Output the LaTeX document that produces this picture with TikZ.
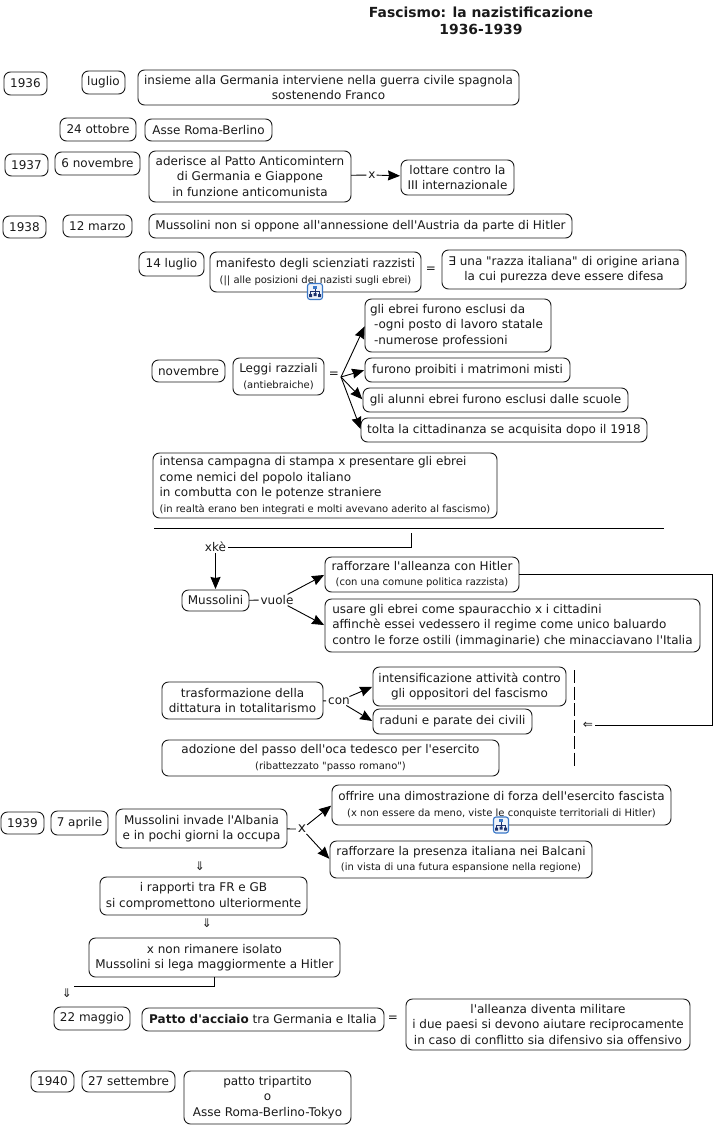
\documentclass[tikz,border=0pt]{standalone}
\usepackage{fontspec}
\defaultfontfeatures[\rmfamily]{}
\setmainfont{DejaVu Sans}
\usetikzlibrary{
        arrows.meta,
        positioning
    }
\newcommand{\subnote}[1]{{\fontsize{10}{12}\selectfont #1}}
\definecolor{iconblue}{RGB}{58,120,200}
\definecolor{iconnavy}{RGB}{30,50,110}
\tikzset{>={Stealth[length=12pt,width=10pt,inset=1pt]},shorten >=1pt}
\tikzset{every node/.style={font=\fontsize{12}{15.4}\selectfont,text=black!90}}
\tikzset{box/.style={draw=black!90,line width=0.9pt,rounded corners=6.5pt,align=center,anchor=north west,inner sep=0pt,outer sep=0pt}}
\tikzset{link/.style={inner sep=1pt,outer sep=0pt}}
\tikzset{conn/.style={line width=0.9pt,draw=black}}
\tikzset{mapicon/.pic={
        \draw[draw=iconblue,fill=iconblue!8,line width=1.1pt,rounded corners=2.5pt] (-7.5,-8) rectangle (7.5,8);
        \draw[draw=iconnavy,line width=0.7pt] (0,-4) -- (0,2) (-4.5,4) -- (-4.5,0) -- (4.5,0) -- (4.5,4);
        \fill[iconblue] (-2,-6) rectangle (2,-3);
        \fill[iconnavy] (-6,2.5) rectangle (-3,5.5) (3,2.5) rectangle (6,5.5) (-1.5,1.5) rectangle (1.5,4.5);
    }}

\begin{document}
\begin{tikzpicture}[x=1pt,y=-1pt]
                \useasboundingbox (0,0) rectangle (715,1125);
                \node[font=\fontsize{13.9}{16.5}\selectfont\bfseries,align=center] (title) at (481,21) {Fascismo: la nazistificazione\\1936-1939};
                % 1936
                \node[box,minimum width=43pt,minimum height=23pt] (y36) at (4,72) {1936};
                \node[box,minimum width=43pt,minimum height=23pt] (lug) at (82,71) {luglio};
                \node[box,minimum width=381pt,minimum height=35pt] (spagna) at (138,70) {insieme alla Germania interviene nella guerra civile spagnola\\sostenendo Franco};
                \node[box,minimum width=76pt,minimum height=23pt] (ott) at (60,118) {24 ottobre};
                \node[box,minimum width=127pt,minimum height=22pt] (asse) at (145,119) {Asse Roma-Berlino};
                % 1937
                \node[box,minimum width=43pt,minimum height=22pt] (y37) at (5,154) {1937};
                \node[box,minimum width=85pt,minimum height=23pt] (nov37) at (55,152) {6 novembre};
                \node[box,minimum width=202pt,minimum height=51pt] (patto37) at (149,151) {aderisce al Patto Anticomintern\\di Germania e Giappone\\in funzione anticomunista};
                \node[link] (x37) at (372,175) {x};
                \node[box,minimum width=113pt,minimum height=35pt] (terza) at (401,160) {lottare contro la\\III internazionale};
                \draw[conn] (patto37) -- (x37);
                \path[->] (x37) edge[conn] (terza);
                % 1938
                \node[box,minimum width=43pt,minimum height=22pt] (y38) at (3,216) {1938};
                \node[box,minimum width=69pt,minimum height=22pt] (mar) at (63,215) {12 marzo};
                \node[box,minimum width=423pt,minimum height=24pt] (austria) at (149,214) {Mussolini non si oppone all'annessione dell'Austria da parte di Hitler};
                \node[box,minimum width=65pt,minimum height=24pt] (lug38) at (139,252) {14 luglio};
                \node[box,minimum width=211pt,minimum height=40pt] (manif) at (210,252) {manifesto degli scienziati razzisti\\\subnote{(|| alle posizioni dei nazisti sugli ebrei)}};
                \pic at (315,291.5) {mapicon};
                \node[link] (eq1) at (431,270) {=};
                \node[box,minimum width=244pt,minimum height=39pt] (razza) at (442,250) {∃ una "razza italiana" di origine ariana\\la cui purezza deve essere difesa};
                \node[box,minimum width=73pt,minimum height=22pt] (nov38) at (152,360) {novembre};
                \node[box,minimum width=91pt,minimum height=37pt] (leggi) at (233,358) {Leggi razziali\\\subnote{(antiebraiche)}};
                \node[link] (eq2) at (334,375) {=};
                \coordinate (fork) at (341,377);
                \node[box,align=left,text width=176pt,inner xsep=5pt,minimum height=53pt] (esclusi) at (365,299) {gli ebrei furono esclusi da\\\ -ogni posto di lavoro statale\\\ -numerose professioni};
                \node[box,minimum width=205pt,minimum height=24pt] (misti) at (365,358) {furono proibiti i matrimoni misti};
                \node[box,minimum width=265pt,minimum height=24pt] (scuole) at (363,388) {gli alunni ebrei furono esclusi dalle scuole};
                \node[box,minimum width=286pt,minimum height=24pt] (citt) at (361,418) {tolta la cittadinanza se acquisita dopo il 1918};
                \path[->]
                    (fork)  edge[conn]  (esclusi.west)
                    (fork)  edge[conn]  (misti.west)
                    (fork)  edge[conn]  (scuole.west)
                    (fork)  edge[conn]  (citt.west)
                ;
                \node[box,align=left,minimum width=344pt,minimum height=65pt] (stampa) at (153,453) {intensa campagna di stampa x presentare gli ebrei\\come nemici del popolo italiano\\in combutta con le potenze straniere\\\subnote{(in realtà erano ben integrati e molti avevano aderito al fascismo)}};
                \coordinate (ruleL) at (154,528);
                \coordinate (ruleR) at (665,528);
                \draw[line width=0.6pt,draw=black] (ruleL) -- (ruleR);
                % xke
                \coordinate (kestart) at (411,533);
                \node[link] (xke) at (215.5,547) {xkè};
                \node[box,minimum width=67pt,minimum height=21pt] (muss) at (182,590) {Mussolini};
                \node[link] (vuole) at (277,600) {vuole};
                \node[box,minimum width=194pt,minimum height=35pt] (allea) at (325,557) {rafforzare l'alleanza con Hitler\\\subnote{(con una comune politica razzista)}};
                \node[box,align=left,minimum width=375pt,minimum height=53pt] (spau) at (325,599) {usare gli ebrei come spauracchio x i cittadini\\affinchè essei vedessero il regime come unico baluardo\\contro le forze ostili (immaginarie) che minacciavano l'Italia};
                \draw[conn] (kestart) |- (xke);
                \draw[->,conn] (xke.south) -- (muss.north);
                \draw[conn] (muss) -- (vuole);
                \path[->]
                    (vuole)  edge[conn]  (allea.west)
                    (vuole)  edge[conn]  (spau.west)
                ;
                % totalitarismo
                \node[box,minimum width=161pt,minimum height=37pt] (total) at (162,682) {trasformazione della\\dittatura in totalitarismo};
                \node[link] (con) at (339,701) {con};
                \node[box,minimum width=193pt,minimum height=39pt] (intens) at (373,667) {intensificazione attività contro\\gli oppositori del fascismo};
                \node[box,minimum width=159pt,minimum height=25pt] (raduni) at (373,709) {raduni e parate dei civili};
                \node[box,minimum width=337pt,minimum height=36pt] (passo) at (162,740) {adozione del passo dell'oca tedesco per l'esercito\\\subnote{(ribattezzato "passo romano")}};
                \draw[conn] (total) -- (con);
                \path[->]
                    (con)  edge[conn]  (intens.west)
                    (con)  edge[conn]  (raduni.west)
                ;
                \coordinate (dashT) at (574,670);
                \coordinate (dashB) at (574,770);
                \draw[line width=0.7pt,draw=black,dash pattern=on 13pt off 3.5pt] (dashT) -- (dashB);
                \node[link] (back) at (588,725) {⇐};
                \coordinate (edgeR) at (712,725);
                \draw[conn] (allea.east) -| (edgeR) -- (back);
                % 1939
                \node[box,minimum width=43pt,minimum height=22pt] (y39) at (1,812) {1939};
                \node[box,minimum width=57pt,minimum height=24pt] (apr) at (51,811) {7 aprile};
                \node[box,minimum width=171pt,minimum height=39pt] (alban) at (116,809) {Mussolini invade l'Albania\\e in pochi giorni la occupa};
                \node[link,font=\fontsize{14}{16}\selectfont] (x39) at (302,829) {x};
                \node[box,minimum width=339pt,minimum height=40pt] (forza) at (332,785) {offrire una dimostrazione di forza dell'esercito fascista\\\subnote{(x non essere da meno, viste le conquiste territoriali di Hitler)}};
                \pic at (501,825) {mapicon};
                \node[box,minimum width=262pt,minimum height=37pt] (balcani) at (330,841) {rafforzare la presenza italiana nei Balcani\\\subnote{(in vista di una futura espansione nella regione)}};
                \draw[conn] (alban) -- (x39);
                \path[->]
                    (x39)  edge[conn]  (forza.west)
                    (x39)  edge[conn]  (balcani.west)
                ;
                \node[link] (dn1) at (200,866) {⇓};
                \node[box,minimum width=207pt,minimum height=38pt] (gbfr) at (100,877) {i rapporti tra FR e GB\\si compromettono ulteriormente};
                \node[link] (dn2) at (207,923) {⇓};
                \node[box,minimum width=251pt,minimum height=39pt] (isol) at (89,938) {x non rimanere isolato\\Mussolini si lega maggiormente a Hitler};
                \node[link] (dn3) at (67,993) {⇓};
                \coordinate (isolout) at (214,977);
                \coordinate (dn3in) at (73,986);
                \draw[conn] (isolout) |- (dn3in);
                \node[box,minimum width=76pt,minimum height=23pt] (mag) at (54,1007) {22 maggio};
                \node[box,minimum width=242pt,minimum height=23pt] (acciaio) at (142,1008) {\textbf{Patto d'acciaio} tra Germania e Italia};
                \node[link] (eq3) at (393,1019) {=};
                \node[box,minimum width=284pt,minimum height=51pt] (milit) at (406,999) {l'alleanza diventa militare\\i due paesi si devono aiutare reciprocamente\\in caso di conflitto sia difensivo sia offensivo};
                % 1940
                \node[box,minimum width=43pt,minimum height=21pt] (y40) at (31,1071) {1940};
                \node[box,minimum width=93pt,minimum height=21pt] (sett) at (82,1071) {27 settembre};
                \node[box,minimum width=167pt,minimum height=53pt] (tripart) at (184,1071) {patto tripartito\\o\\Asse Roma-Berlino-Tokyo};
            \end{tikzpicture}
\end{document}
